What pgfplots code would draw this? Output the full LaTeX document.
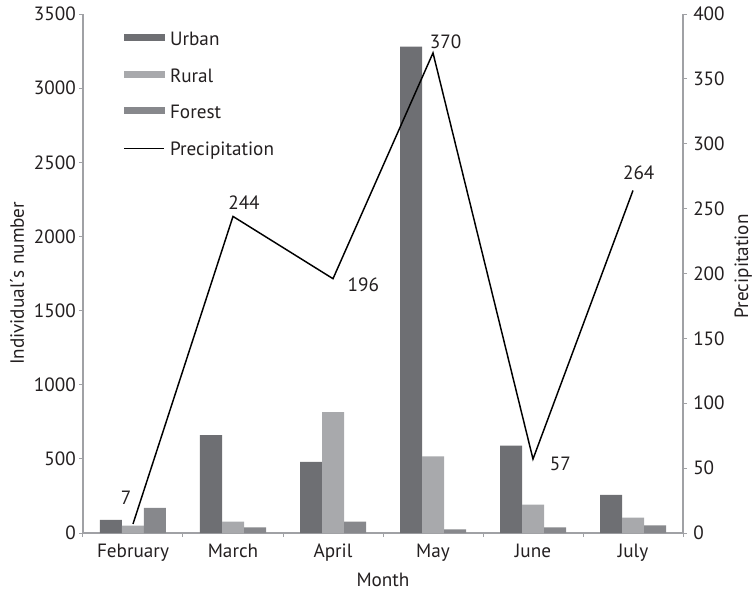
\documentclass[border=0pt]{standalone}
\usepackage{fontspec}
\setmainfont{PT Sans}
\usepackage{pgfplots}
\usepackage{pgfplotstable}
\pgfplotsset{compat=1.18}

\definecolor{urban}{RGB}{110,111,115}
\definecolor{rural}{RGB}{168,169,172}
\definecolor{forest}{RGB}{135,136,140}
\definecolor{axisgray}{RGB}{160,161,165}
\definecolor{ink}{RGB}{35,31,32}

% individuals per habitat, months at 0..5
\pgfplotstableread{
m urban rural forest
0 88   50  169
1 660  77  38
2 480  815 77
3 3280 516 25
4 590  192 38
5 257  103 51
}\bars

% precipitation
\pgfplotstableread{
m p
0 7
1 244
2 196
3 370
4 57
5 264
}\rain

\pgfplotsset{
  base/.style={
    width=450pt, height=389.25pt, scale only axis,
    xmin=-0.5, xmax=5.5, ymin=0,
    axis line style={axisgray, line width=0.9pt},
    tick style={axisgray, line width=0.75pt},
    tick align=outside, major tick length=3pt,
    /pgf/number format/assume math mode=true,
    /pgf/number format/1000 sep={},
    clip=false,
  },
}

\begin{document}
\fontsize{14.4}{17}\selectfont
\begin{tikzpicture}[text=ink]
\begin{axis}[base, name=main,
    ymax=3500, ytick={0,500,...,3500},
    axis x line*=bottom, axis y line*=left,
    xtick={-0.5,0.5,...,5.5}, xticklabels={},
    extra x ticks={0,1,2,3,4,5},
    extra x tick labels={February,March,April,May,June,July},
    extra x tick style={major tick length=0pt,
      xticklabel style={inner sep=0pt, yshift=-8pt}},
    yticklabel style={inner sep=0pt, xshift=-2.25pt},
    xlabel={Month}, ylabel={Individual´s number},
    every axis x label/.style={at={(axis description cs:0.5,-0.0906)}, anchor=center},
    every axis y label/.style={at={(axis description cs:-0.11,0.481)}, rotate=90, anchor=center},
    legend cell align=left,
    legend style={draw=none, fill=none, at={(axis description cs:0,1)},
      anchor=north west, xshift=30pt, yshift=-13.5pt, inner sep=0pt,
      row sep=14.5pt, column sep=4pt,
      nodes={inner sep=0pt, text height=10pt, text depth=3pt}},
  ]
  \addplot[ybar, bar width=16.5pt, bar shift=-16.5pt, fill=urban, draw=none, forget plot]
    table[x=m, y=urban] {\bars};
  \addplot[ybar, bar width=16.5pt, bar shift=0pt, fill=rural, draw=none, forget plot]
    table[x=m, y=rural] {\bars};
  \addplot[ybar, bar width=16.5pt, bar shift=16.5pt, fill=forest, draw=none, forget plot]
    table[x=m, y=forest] {\bars};

  \addlegendimage{legend image code/.code={\fill[urban] (0pt,0.5pt) rectangle (30pt,5pt);}}
  \addlegendentry{Urban}
  \addlegendimage{legend image code/.code={\fill[rural] (0pt,0.5pt) rectangle (30pt,5pt);}}
  \addlegendentry{Rural}
  \addlegendimage{legend image code/.code={\fill[forest] (0pt,0.5pt) rectangle (30pt,5pt);}}
  \addlegendentry{Forest}
  \addlegendimage{legend image code/.code={\draw[black, line width=1.1pt] (0pt,2pt) -- (30pt,2pt);}}
  \addlegendentry{Precipitation}
\end{axis}

\begin{axis}[base,
    ymax=400, ytick={0,50,...,400},
    axis y line*=right, axis x line=none,
    yticklabel style={inner sep=0pt, xshift=4.5pt},
    ylabel={Precipitation},
    every axis y label/.style={at={(axis description cs:1.1155,0.514)}, rotate=90, anchor=south, inner sep=0pt},
  ]
  \addplot[black, line width=1.1pt, line join=miter, mark=none] table[x=m, y=p] {\rain};
  \node[xshift=-5.25pt, yshift=19.5pt] at (axis cs:0,7) {7};
  \node[xshift=8.25pt, yshift=10.3pt] at (axis cs:1,244) {244};
  \node[xshift=22.8pt, yshift=-4.5pt] at (axis cs:2,196) {196};
  \node[xshift=9.5pt, yshift=8.7pt] at (axis cs:3,370) {370};
  \node[xshift=20.5pt, yshift=-4pt] at (axis cs:4,57) {57};
  \node[xshift=4.3pt, yshift=13.4pt] at (axis cs:5,264) {264};
\end{axis}

\pgfresetboundingbox
\path (main.south west) ++(-62.25pt,-45.75pt) rectangle ++(565.5pt,445.5pt);
\end{tikzpicture}
\end{document}
